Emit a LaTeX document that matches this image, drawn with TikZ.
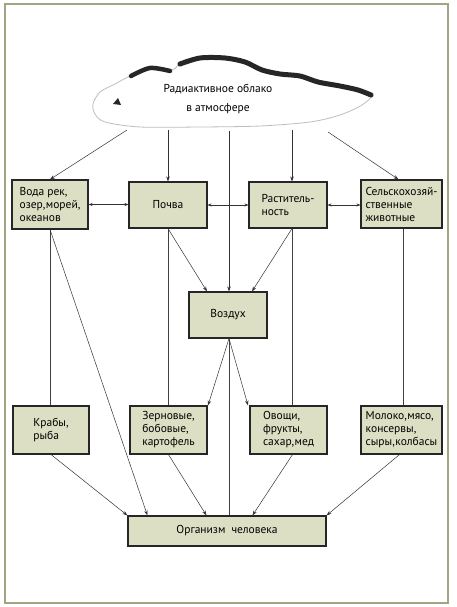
\documentclass[tikz,border=0pt]{standalone}
\usepackage{fontspec}
\setmainfont{PT Sans}
\usetikzlibrary{arrows.meta}
\definecolor{boxfill}{RGB}{221,223,196}
\definecolor{framecol}{RGB}{160,165,130}
\definecolor{cloudline}{RGB}{190,190,185}
\begin{document}
\begin{tikzpicture}[x=1pt, y=-1pt, line width=0.5pt,
    every node/.style={font=\fontsize{11.5}{13}\selectfont},
    block/.style={draw=black!85, line width=1.1pt, fill=boxfill, align=left,
      inner sep=1.5pt, minimum height=46pt},
    arr/.style={draw=black!80, -{Stealth[length=5pt, width=3.5pt]}},
    biarr/.style={draw=black!80, {Stealth[length=4pt, width=3pt]}-{Stealth[length=4pt, width=3pt]}},
    link/.style={draw=black!75}]
  \useasboundingbox[fill=white] (0,0) rectangle (456,607);
  \draw[framecol, line width=2.2pt] (5,4) rectangle (448,603);
  \filldraw[fill=white, draw=cloudline, line width=0.8pt] plot[smooth cycle, tension=0.5] coordinates {
    (93,104) (100,92) (115,84) (130,76) (150,68) (172,70) (182,62) (200,58)
    (225,58) (245,62) (262,70) (280,74) (300,76) (318,82) (340,86) (358,90)
    (372,95) (362,105) (340,115) (310,122) (260,126) (200,127) (140,127) (105,122) (95,114)};
  \draw[black!85, line width=4.5pt, line cap=round] plot[smooth, tension=0.5] coordinates {
    (131,76) (150,68) (170,71)};
  \draw[black!85, line width=5pt, line cap=round] plot[smooth, tension=0.5] coordinates {
    (180,64) (200,58) (225,58) (245,62) (262,70) (280,74) (300,76)
    (318,82) (340,86) (358,90) (371,95)};
  \fill[black!85] (113,104) -- (118,98) -- (121,105) -- cycle;
  \node[align=center] (cloud) at (218,99) {Радиактивное облако\\[6pt]в атмосфере};
  \coordinate (c1) at (127,130);
  \coordinate (c2) at (168,130);
  \coordinate (c3) at (229,131);
  \coordinate (c4) at (292,130);
  \coordinate (c5) at (328,132);

  \node[block, minimum width=76pt, minimum height=49pt] (voda) at (50,204.5) {Вода рек,\\озер,морей,\\океанов};
  \node[block, minimum width=78pt] (pochva) at (168,205) {Почва};
  \node[block, minimum width=78pt] (rast) at (288,205) {Раститель-\\ность};
  \node[block, minimum width=81pt, minimum height=48pt, inner xsep=1pt] (selkh) at (401.5,204) {Сельскохозяй-\\ственные\\животные};
  \node[block, minimum width=78pt] (vozdukh) at (228,315) {Воздух};
  \node[block, minimum width=76pt, minimum height=48pt] (kraby) at (51,430) {Крабы,\\рыба};
  \node[block, minimum width=77pt, minimum height=48pt] (zern) at (168.5,430) {Зерновые,\\бобовые,\\картофель};
  \node[block, minimum width=77pt, minimum height=48pt] (ovoshchi) at (288.5,430) {Овощи,\\фрукты,\\сахар,мед};
  \node[block, minimum width=81pt, minimum height=48pt, inner xsep=1pt] (moloko) at (401.5,430) {Молоко,мясо,\\консервы,\\сыры,колбасы};
  \node[block, align=center, minimum width=198pt, minimum height=30pt] (organizm) at (227,531) {Организм\ \ человека};

  \draw[arr] (c1) -- (voda.north);
  \draw[arr] (c2) -- (pochva.north);
  \draw[arr] (c3) -- (c3 |- vozdukh.north);
  \draw[arr] (c4) -- (c4 |- rast.north);
  \draw[arr] (c5) -- ([xshift=-3pt]selkh.north);

  \draw[biarr] (voda.east) -- (voda.east -| pochva.west);
  \draw[biarr] (pochva.east) -- (rast.west);
  \draw[biarr] (rast.east) -- (rast.east -| selkh.west);

  \draw[arr] (pochva.south) -- ([xshift=-21pt]vozdukh.north);
  \draw[arr] ([xshift=4pt]rast.south) -- ([xshift=24pt]vozdukh.north);
  \draw[arr] ([xshift=1pt]vozdukh.south) -- ([xshift=39.5pt]zern.north);
  \draw[arr] ([xshift=1pt]vozdukh.south) -- ([xshift=-40.5pt]ovoshchi.north);

  \draw[link] (voda.south) -- (voda.south |- kraby.north);
  \draw[link] (pochva.south) -- (pochva.south |- zern.north);
  \draw[link] ([xshift=4pt]rast.south) -- ([xshift=4pt]rast.south |- ovoshchi.north);
  \draw[link] ([xshift=2pt]selkh.south) -- ([xshift=2pt]selkh.south |- moloko.north);
  \draw[link] ([xshift=1pt]vozdukh.south) -- ([xshift=1pt]vozdukh.south |- organizm.north);

  \draw[arr] (voda.south) -- ([xshift=20pt]organizm.north west);
  \draw[arr] (kraby.south) -- (organizm.north west);
  \draw[arr] (zern.south) -- ([xshift=79pt]organizm.north west);
  \draw[arr] ([xshift=4pt]ovoshchi.south) -- ([xshift=125pt]organizm.north west);
  \draw[arr] ([xshift=-2pt]moloko.south) -- (organizm.north east);
\end{tikzpicture}
\end{document}
